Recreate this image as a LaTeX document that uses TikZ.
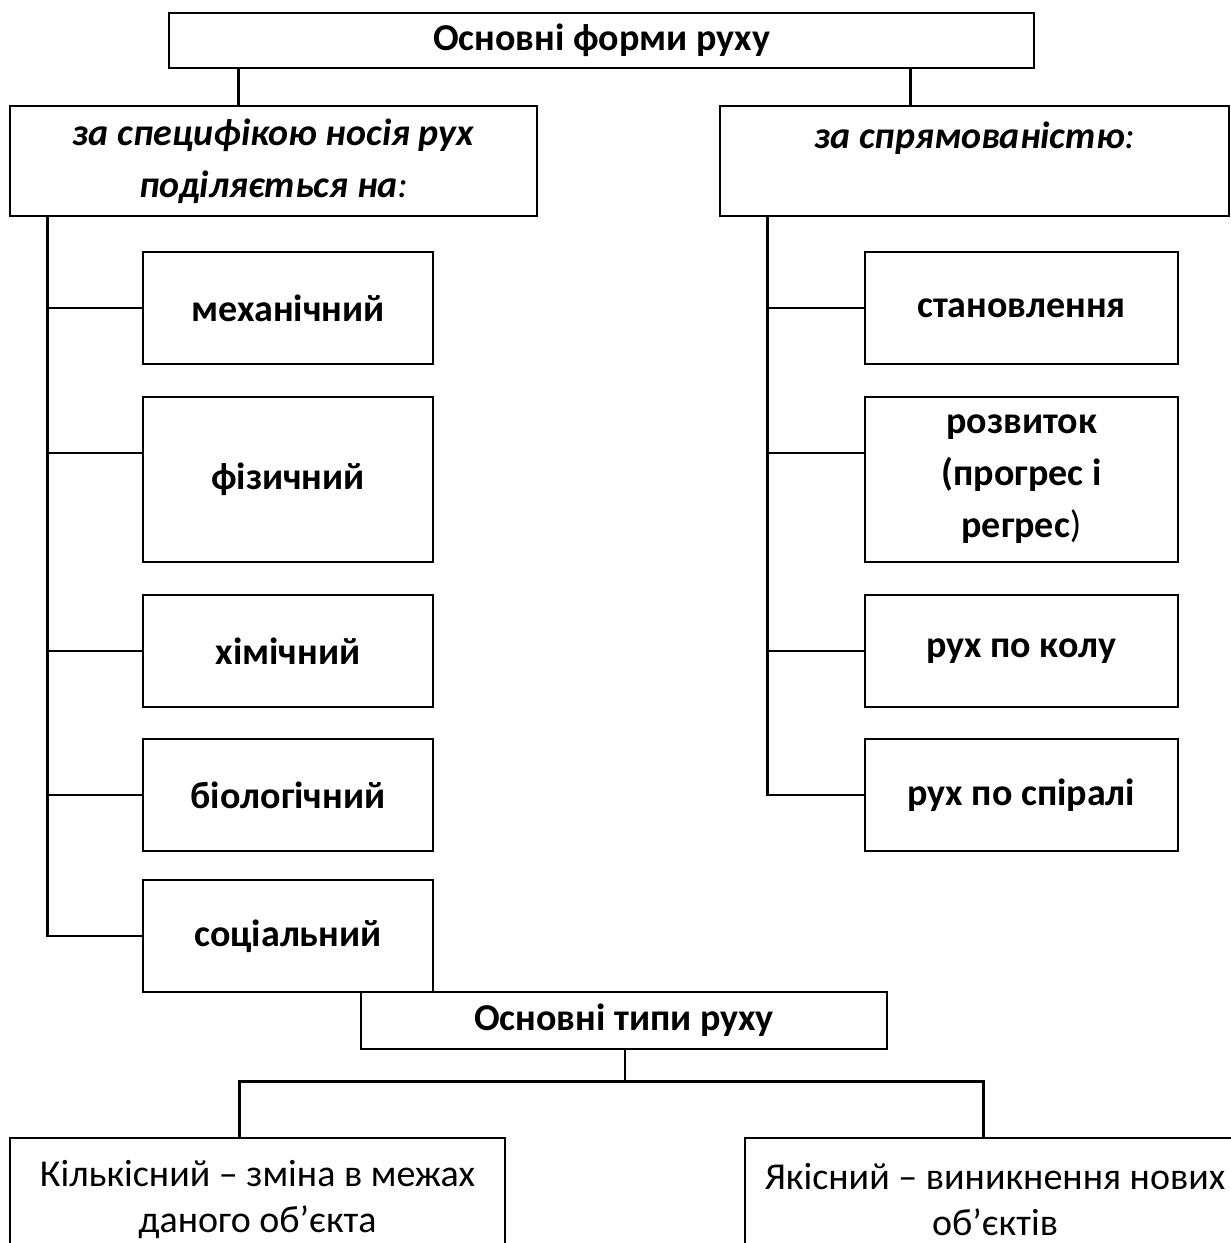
\documentclass[tikz,border=0pt]{standalone}
\usepackage{fontspec}
\setmainfont{Carlito}
\usetikzlibrary{calc}

\begin{document}
\begin{tikzpicture}[x=1pt, y=-1pt,
  box/.style={draw, line width=2.8pt, inner sep=0pt, align=center,
    font=\fontsize{38}{52}\selectfont},
  headbox/.style={box, font=\fontsize{38}{52}\selectfont\bfseries},
  kindbox/.style={headbox, minimum height=112pt},
  typebox/.style={box, font=\fontsize{38}{46}\selectfont},
  link/.style={line width=2.8pt}]
\def\leftx{288}
\def\rightx{1021.5}
\def\kidw{290pt}
\def\kidwr{313pt}

\clip (0,0) rectangle (1231,1243);

% heads
\node[headbox, minimum width=865pt, minimum height=55pt] (forms) at (601.5,40.5) {Основні форми руху};
\node[box, minimum width=527pt, minimum height=110pt] (carrier) at (273.5,161)
  {\textbf{\textit{за специфікою носія рух}}\\\textbf{\textit{поділяється на}}\textit{:}};
\node[box, minimum width=509pt, minimum height=110pt] (direct) at (974.5,161)
  {\textbf{\textit{за спрямованістю}}\textit{:}\\\mbox{}};

% left column
\node[kindbox, minimum width=\kidw] (mech) at (\leftx,308) {механічний};
\node[kindbox, minimum width=\kidw, minimum height=165pt] (phys) at (\leftx,479.5) {фізичний};
\node[kindbox, minimum width=\kidw] (chem) at (\leftx,651) {хімічний};
\node[kindbox, minimum width=\kidw] (bio) at (\leftx,795) {біологічний};
\node[kindbox, minimum width=\kidw] (soc) at (\leftx,936) {соціальний};

% right column
\node[kindbox, minimum width=\kidwr] (becom) at (\rightx,308) {становлення};
\node[kindbox, minimum width=\kidwr, minimum height=165pt] (devel) at (\rightx,479.5)
  {розвиток\\(прогрес і\\регрес\textmd{)}};
\node[kindbox, minimum width=\kidwr] (circ) at (\rightx,651) {рух по колу};
\node[kindbox, minimum width=\kidwr] (spir) at (\rightx,795) {рух по спіралі};

% types
\node[headbox, minimum width=526pt, minimum height=57pt] (types) at (624,1020.5) {Основні типи руху};
\node[typebox, minimum width=495pt, minimum height=124pt] (quant) at (257.5,1200)
  {Кількісний – зміна в межах\\даного об’єкта};
\node[typebox, minimum width=500pt, minimum height=124pt] (qual) at (995,1200)
  {Якісний – виникнення нових\\об’єктів};

% links
\coordinate (cl) at ($(carrier.north west)+(230,0)$);
\coordinate (cr) at ($(direct.north west)+(192,0)$);
\draw[link] (cl) -- (cl |- forms.south);
\draw[link] (cr) -- (cr |- forms.south);

\coordinate (ls) at ($(carrier.south west)+(39,0)$);
\draw[link] (ls) |- (mech.west);
\draw[link] (ls) |- ([yshift=26.5pt]phys.west);
\draw[link] (ls) |- (chem.west);
\draw[link] (ls) |- (bio.west);
\draw[link] (ls) |- (soc.west);

\coordinate (rs) at ($(direct.south west)+(49,0)$);
\draw[link] (rs) |- (becom.west);
\draw[link] (rs) |- ([yshift=26.5pt]devel.west);
\draw[link] (rs) |- (circ.west);
\draw[link] (rs) |- (spir.west);

\coordinate (fork) at ($(types.south)+(1,31)$);
\draw[link] (types.south -| fork) -- (fork);
\draw[link] ($(quant.north west)+(231,0)$) |- (fork) -| ($(qual.north west)+(240,0)$);
\end{tikzpicture}
\end{document}
